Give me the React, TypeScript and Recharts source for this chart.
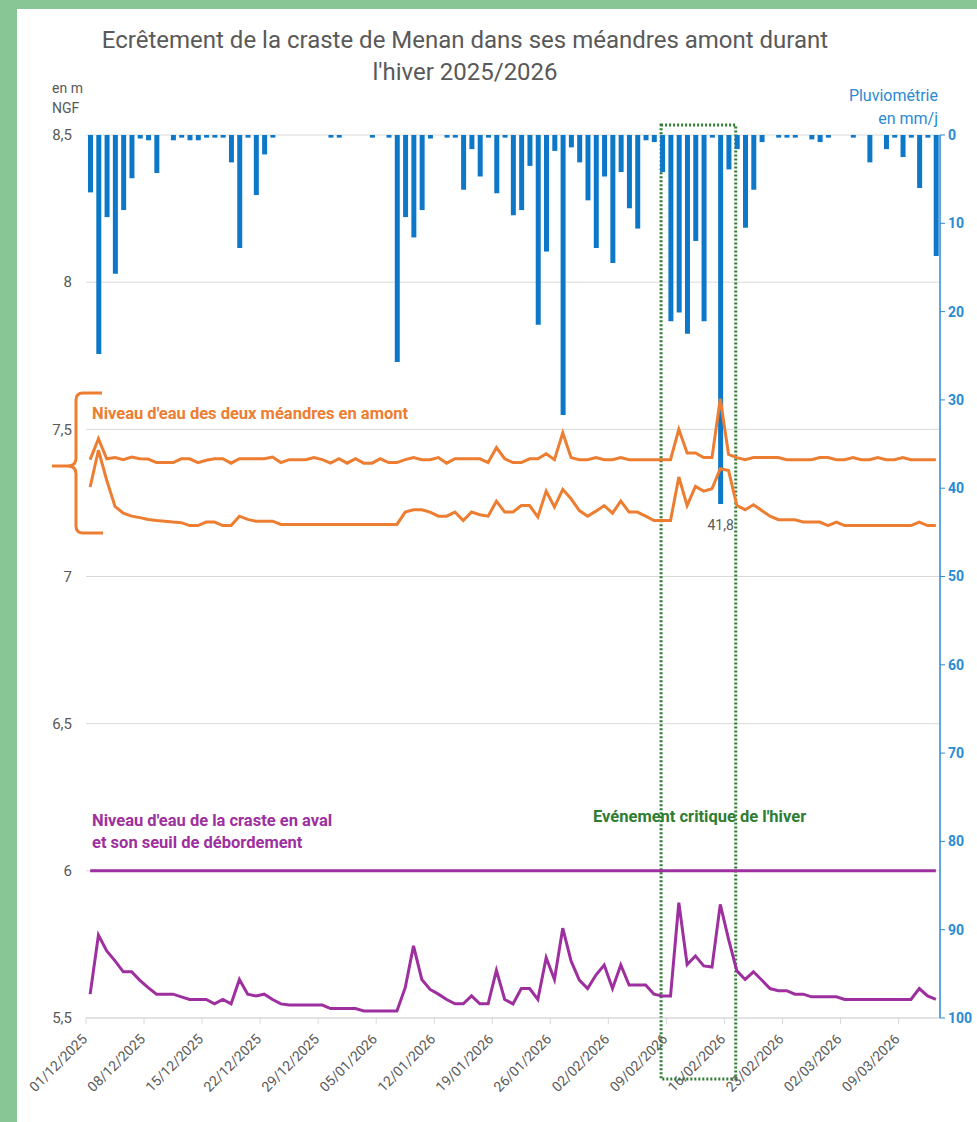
import React from 'react';
import {
  ComposedChart,
  Bar,
  Line,
  XAxis,
  YAxis,
  CartesianGrid,
  ReferenceLine,
  ReferenceArea,
  LabelList,
} from 'recharts';

// 103 jours, du 01/12/2025 au 13/03/2026
const START = Date.UTC(2025, 11, 1);
const NB_JOURS = 103;
const DATES = Array.from({ length: NB_JOURS }, (_, i) => {
  const d = new Date(START + i * 86400000);
  const dd = String(d.getUTCDate()).padStart(2, '0');
  const mm = String(d.getUTCMonth() + 1).padStart(2, '0');
  return `${dd}/${mm}/${d.getUTCFullYear()}`;
});
const DATE_TICKS = DATES.filter((_, i) => i % 7 === 0);

// pluviométrie en mm/j
const PLUIE = [
  6.5, 24.8, 9.3, 15.7, 8.5, 4.9, 0.4, 0.6, 4.3, 0,
  0.6, 0.3, 0.6, 0.6, 0.3, 0.3, 0.3, 3.1, 12.8, 0.3,
  6.8, 2.2, 0.3, 0, 0, 0, 0, 0, 0, 0.3,
  0.3, 0, 0, 0, 0.3, 0, 0.3, 25.7, 9.3, 11.6,
  8.5, 0.4, 0, 0.3, 0.3, 6.2, 1.6, 4.7, 0.3, 6.6,
  0.3, 9.1, 8.5, 3.5, 21.5, 13.2, 1.8, 31.7, 1.4, 3.1,
  7.4, 12.8, 4.7, 14.5, 4.2, 8.3, 10.6, 0.6, 0.8, 4.2,
  21.1, 20.1, 22.5, 12.0, 21.1, 0.3, 41.8, 3.9, 1.6, 10.5,
  6.2, 0.8, 0, 0.3, 0.3, 0.3, 0, 0.5, 0.8, 0.3,
  0, 0, 0.3, 0, 3.1, 0, 1.6, 0.3, 2.5, 0.3,
  6.0, 0.3, 13.7,
];

// niveaux en m NGF
const AMONT_HAUT = [
  7.397, 7.468, 7.4, 7.404, 7.397, 7.406, 7.4, 7.399, 7.387, 7.387,
  7.387, 7.4, 7.4, 7.387, 7.395, 7.4, 7.4, 7.385, 7.4, 7.4,
  7.4, 7.4, 7.406, 7.387, 7.397, 7.397, 7.397, 7.404, 7.397, 7.385,
  7.4, 7.385, 7.4, 7.385, 7.385, 7.4, 7.387, 7.387, 7.397, 7.404,
  7.397, 7.397, 7.404, 7.385, 7.4, 7.4, 7.4, 7.4, 7.387, 7.438,
  7.4, 7.387, 7.387, 7.4, 7.4, 7.417, 7.397, 7.488, 7.404, 7.397,
  7.397, 7.404, 7.397, 7.397, 7.404, 7.397, 7.397, 7.397, 7.397, 7.397,
  7.397, 7.5, 7.42, 7.42, 7.404, 7.404, 7.604, 7.415, 7.404, 7.397,
  7.404, 7.404, 7.404, 7.404, 7.397, 7.397, 7.397, 7.397, 7.404, 7.404,
  7.397, 7.397, 7.404, 7.397, 7.397, 7.404, 7.397, 7.397, 7.404, 7.397,
  7.397, 7.397, 7.397,
];

const AMONT_BAS = [
  7.304, 7.429, 7.327, 7.238, 7.215, 7.205, 7.2, 7.194, 7.19, 7.188,
  7.185, 7.183, 7.173, 7.173, 7.185, 7.185, 7.173, 7.173, 7.205, 7.194,
  7.188, 7.188, 7.188, 7.177, 7.177, 7.177, 7.177, 7.177, 7.177, 7.177,
  7.177, 7.177, 7.177, 7.177, 7.177, 7.177, 7.177, 7.177, 7.219, 7.227,
  7.227, 7.219, 7.205, 7.205, 7.219, 7.19, 7.219, 7.21, 7.205, 7.256,
  7.219, 7.219, 7.241, 7.241, 7.202, 7.29, 7.236, 7.296, 7.264, 7.224,
  7.205, 7.222, 7.241, 7.215, 7.256, 7.219, 7.219, 7.205, 7.19, 7.19,
  7.19, 7.338, 7.241, 7.306, 7.29, 7.298, 7.366, 7.36, 7.241, 7.227,
  7.244, 7.224, 7.205, 7.193, 7.193, 7.193, 7.185, 7.185, 7.185, 7.173,
  7.185, 7.173, 7.173, 7.173, 7.173, 7.173, 7.173, 7.173, 7.173, 7.173,
  7.185, 7.173, 7.173,
];

const AVAL = [
  5.581, 5.782, 5.728, 5.694, 5.657, 5.657, 5.628, 5.603, 5.581, 5.581,
  5.581, 5.572, 5.563, 5.563, 5.563, 5.548, 5.563, 5.548, 5.631, 5.581,
  5.575, 5.581, 5.563, 5.548, 5.544, 5.544, 5.544, 5.544, 5.544, 5.532,
  5.532, 5.532, 5.532, 5.524, 5.524, 5.524, 5.524, 5.524, 5.603, 5.745,
  5.631, 5.597, 5.581, 5.563, 5.548, 5.548, 5.575, 5.548, 5.548, 5.662,
  5.563, 5.548, 5.6, 5.6, 5.563, 5.705, 5.631, 5.805, 5.694, 5.629,
  5.6, 5.646, 5.68, 5.6, 5.68, 5.612, 5.612, 5.612, 5.581, 5.575,
  5.575, 5.892, 5.682, 5.711, 5.677, 5.673, 5.886, 5.767, 5.66, 5.631,
  5.657, 5.629, 5.6, 5.593, 5.593, 5.581, 5.581, 5.572, 5.572, 5.572,
  5.572, 5.563, 5.563, 5.563, 5.563, 5.563, 5.563, 5.563, 5.563, 5.563,
  5.6, 5.575, 5.563,
];

const SEUIL = 6;
const NIVEAU_TICKS = [5.5, 6, 6.5, 7, 7.5, 8, 8.5];
const PLUIE_TICKS = [0, 10, 20, 30, 40, 50, 60, 70, 80, 90, 100];
const EVENEMENT = [DATES[69], DATES[77]];

const FONT = "Roboto, 'Noto Sans', sans-serif";
const GRIS = '#595959';
const GRILLE = '#D9D9D9';
const BLEU = '#0E78C8';
const BLEU_AXE = '#2A8AD4';
const ORANGE = '#ED7D31';
const VIOLET = '#9E2F9E';
const VERT = '#2E7D32';
const FOND = '#88C695';

const W = 977;
const H = 1122;
const MARGIN = { top: 135, right: 0, bottom: 24, left: 46 };
const LEFT_W = 40;
const RIGHT_W = 37;
const BAND = (W - MARGIN.left - MARGIN.right - LEFT_W - RIGHT_W) / NB_JOURS;
const PLUIE_MAX = Math.max(...PLUIE);

const virgule = (v: number) => String(v).replace('.', ',');

function DateTick(props: any) {
  const { x, y, payload } = props;
  const bx = x - BAND / 2;
  const tx = bx + 2;
  const ty = y + 16;
  return (
    <g>
      <line x1={bx} y1={y - 6} x2={bx} y2={y} stroke={GRILLE} />
      <text
        x={tx}
        y={ty}
        textAnchor="end"
        fill={GRIS}
        fontSize={14}
        fontFamily={FONT}
        transform={`rotate(-45 ${tx} ${ty})`}
      >
        {payload.value}
      </text>
    </g>
  );
}

function EventBox(props: any) {
  const { x, y, width, height } = props;
  return (
    <rect
      x={x + 3}
      y={y - 10}
      width={width}
      height={height + 71}
      fill="none"
      stroke={VERT}
      strokeWidth={3}
      strokeDasharray="2 2"
    />
  );
}

function PicLabel(props: any) {
  const { x, y, width, height, value } = props;
  if (value !== PLUIE_MAX) return null;
  const bottom = Math.max(y, y + height);
  return (
    <text x={x + width / 2} y={bottom + 26} textAnchor="middle" fill={GRIS} fontSize={14} fontFamily={FONT}>
      {virgule(value)}
    </text>
  );
}

const abs = (left: number, top: number, extra: React.CSSProperties = {}): React.CSSProperties => ({
  position: 'absolute',
  left,
  top,
  whiteSpace: 'nowrap',
  ...extra,
});

export default function App() {
  const data = DATES.map((date, i) => ({
    date,
    pluie: PLUIE[i],
    amontHaut: AMONT_HAUT[i],
    amontBas: AMONT_BAS[i],
    aval: AVAL[i],
  }));

  return (
    <div
      style={{
        position: 'absolute',
        left: 0,
        top: 0,
        width: W,
        height: H,
        background: FOND,
        fontFamily: FONT,
        overflow: 'hidden',
      }}
    >
      <div style={{ position: 'absolute', left: 17, top: 9, right: 0, bottom: 0, background: '#fff' }} />

      <div style={{ position: 'absolute', left: 0, top: 0 }}>
        <ComposedChart width={W} height={H} data={data} margin={MARGIN}>
          <CartesianGrid yAxisId="left" vertical={false} stroke={GRILLE} />
          <XAxis
            dataKey="date"
            ticks={DATE_TICKS}
            interval={0}
            height={80}
            axisLine={{ stroke: GRILLE }}
            tickLine={false}
            tickSize={6}
            tickMargin={0}
            tick={<DateTick />}
          />
          <YAxis
            yAxisId="left"
            domain={[5.5, 8.5]}
            ticks={NIVEAU_TICKS}
            interval={0}
            width={LEFT_W}
            axisLine={false}
            tickLine={false}
            tickSize={0}
            tickMargin={14}
            tickFormatter={virgule}
            tick={{ fill: GRIS, fontSize: 15, fontFamily: FONT }}
          />
          <YAxis
            yAxisId="right"
            orientation="right"
            reversed
            domain={[0, 100]}
            ticks={PLUIE_TICKS}
            interval={0}
            width={RIGHT_W}
            axisLine={{ stroke: BLEU_AXE, strokeWidth: 1.5 }}
            tickLine={{ stroke: BLEU_AXE }}
            tickSize={5}
            tickMargin={3}
            tick={{ fill: BLEU_AXE, fontSize: 14, fontWeight: 700, fontFamily: FONT }}
          />
          <Bar yAxisId="right" dataKey="pluie" fill={BLEU} barSize={5} isAnimationActive={false}>
            <LabelList dataKey="pluie" content={<PicLabel />} />
          </Bar>
          <ReferenceLine
            yAxisId="left"
            segment={[
              { x: DATES[0], y: SEUIL },
              { x: DATES[NB_JOURS - 1], y: SEUIL },
            ]}
            stroke={VIOLET}
            strokeWidth={3}
          />
          <Line yAxisId="left" type="linear" dataKey="amontHaut" stroke={ORANGE} strokeWidth={3} dot={false} isAnimationActive={false} />
          <Line yAxisId="left" type="linear" dataKey="amontBas" stroke={ORANGE} strokeWidth={3} dot={false} isAnimationActive={false} />
          <Line yAxisId="left" type="linear" dataKey="aval" stroke={VIOLET} strokeWidth={3} dot={false} isAnimationActive={false} />
          <ReferenceArea yAxisId="left" x1={EVENEMENT[0]} x2={EVENEMENT[1]} ifOverflow="visible" shape={<EventBox />} />
        </ComposedChart>
      </div>

      <svg width={W} height={H} style={{ position: 'absolute', left: 0, top: 0, pointerEvents: 'none' }}>
        <path
          d="M102 393 H83 Q76 393 76 400 V458 Q76 466 68 466 H52 M68 466 Q76 466 76 474 V526 Q76 533 83 533 H103"
          fill="none"
          stroke={ORANGE}
          strokeWidth={3}
        />
      </svg>

      <div style={abs(0, 24, { width: 930, textAlign: 'center', fontSize: 24, lineHeight: '32px', color: GRIS })}>
        Ecrêtement de la craste de Menan dans ses méandres amont durant
        <br />
        l'hiver 2025/2026
      </div>

      <div style={abs(52, 78, { fontSize: 14, lineHeight: '20px', color: GRIS })}>
        en m
        <br />
        NGF
      </div>
      <div style={abs(780, 84, { width: 158, textAlign: 'right', fontSize: 16, lineHeight: '23px', color: BLEU_AXE })}>
        Pluviométrie
        <br />
        en mm/j
      </div>

      <div style={abs(92, 404, { fontSize: 16.5, lineHeight: '20px', fontWeight: 700, color: ORANGE })}>
        Niveau d'eau des deux méandres en amont
      </div>
      <div style={abs(92, 810, { fontSize: 16.5, fontWeight: 700, lineHeight: '22px', color: VIOLET })}>
        Niveau d'eau de la craste en aval
        <br />
        et son seuil de débordement
      </div>
      <div style={abs(593, 807, { fontSize: 16.5, lineHeight: '20px', fontWeight: 700, color: VERT })}>
        Evénement critique de l'hiver
      </div>
    </div>
  );
}
